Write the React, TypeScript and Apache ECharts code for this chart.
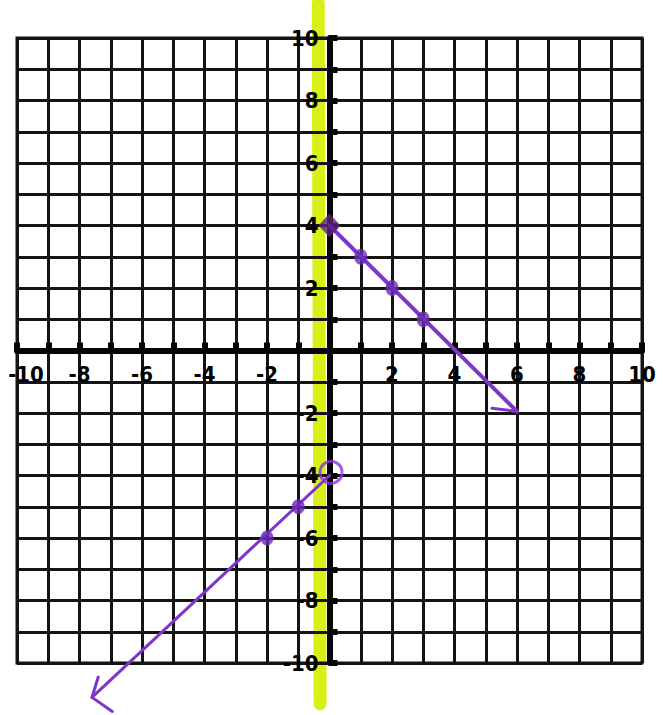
import React, { useEffect, useRef } from "react";
import * as echarts from "echarts";

// Axis extents and step of the graph paper
const axisMin = -10;
const axisMax = 10;
const gridStep = 1;

// Numbered ticks along each axis
const xTickLabels = [-10, -8, -6, -4, -2, 2, 4, 6, 8, 10];
const yTickLabels = [10, 8, 6, 4, 2, -2, -4, -6, -8, -10];

// Highlighted vertical stroke beside the y-axis (x = 0 boundary)
const highlightPath = [
  [-0.36, 11.1],
  [-0.3, -11.3],
];

// Upper piece: y = -x + 4, closed at x = 0, ray toward the lower right
const upperRay = [
  [0, 4],
  [6, -1.95],
];
const upperArrowHead = [
  [5.2, -1.85],
  [6, -1.95],
];
const upperDots = [
  [1, 3],
  [2, 2],
  [3, 1],
];
const closedEnd = [[0, 4]];

// Lower piece: y = x - 4, open at x = 0, ray toward the lower left
const lowerRay = [
  [0, -4],
  [-7.6, -11.1],
];
const lowerArrowHead = [
  [-7.4, -10.45],
  [-7.6, -11.1],
  [-6.95, -11.55],
];
const lowerDots = [
  [-1, -5],
  [-2, -6],
];
const openEnd = [[0.05, -3.9]];

const PURPLE = "#7f34cc";
const DOT = "#6a2ab4";
const labelFont = "'Liberation Sans Narrow', 'DejaVu Sans Condensed', 'Liberation Sans', sans-serif";

export default function App() {
  const ref = useRef<HTMLDivElement>(null);

  useEffect(() => {
    if (!ref.current) return;
    const chart = echarts.init(ref.current, undefined, { renderer: "svg" });

    const axisCommon = {
      type: "value" as const,
      min: axisMin,
      max: axisMax,
      interval: gridStep,
      axisLine: { onZero: true, lineStyle: { color: "#050505", width: 6 } },
      axisTick: { show: true, inside: true, length: 8, lineStyle: { color: "#050505", width: 6 } },
      splitLine: { show: true, lineStyle: { color: "#141414", width: 3 } },
      axisLabel: { show: false },
    };

    const ray = (data: number[][], width: number) => ({
      type: "line" as const,
      data,
      showSymbol: false,
      symbol: "none",
      clip: false,
      z: 3,
      lineStyle: { color: PURPLE, width, cap: "round" as const, join: "round" as const },
    });

    const textStyle = {
      fontSize: 22,
      fontFamily: labelFont,
      fontWeight: "bold" as const,
      color: "#000000",
      textBorderWidth: 0,
      opacity: 1,
    };

    // the leftmost number sits at the paper edge, so it is nudged inward
    const xLabelData = xTickLabels.map((v) =>
      v === axisMin ? { value: [v, 0], label: { offset: [9, 0] } } : { value: [v, 0] }
    );

    chart.setOption({
      animation: false,
      backgroundColor: "#ffffff",
      grid: {
        left: 17,
        top: 38,
        width: 625,
        height: 625,
        containLabel: false,
        outerBoundsMode: "none",
        show: true,
        borderColor: "#141414",
        borderWidth: 3,
      },
      xAxis: axisCommon,
      yAxis: axisCommon,
      series: [
        {
          type: "line",
          data: highlightPath,
          showSymbol: false,
          symbol: "none",
          clip: false,
          z: -1,
          lineStyle: { color: "#d6ef0a", width: 13, cap: "round", opacity: 0.95 },
        },
        ray(upperRay, 4),
        ray(upperArrowHead, 3),
        ray(lowerRay, 3),
        ray(lowerArrowHead, 3),
        {
          type: "scatter",
          data: upperDots,
          symbol: "circle",
          symbolSize: [13, 16],
          z: 4,
          itemStyle: { color: DOT },
        },
        {
          type: "scatter",
          data: lowerDots,
          symbol: "circle",
          symbolSize: [13, 15],
          z: 4,
          itemStyle: { color: DOT },
        },
        {
          type: "scatter",
          data: closedEnd,
          symbol: "diamond",
          symbolSize: [22, 24],
          z: 4,
          itemStyle: { color: "#5e1f7a" },
        },
        {
          type: "scatter",
          data: openEnd,
          symbol: "circle",
          symbolSize: 22,
          z: 4,
          clip: false,
          itemStyle: { color: "none", borderColor: "#8a36d6", borderWidth: 3 },
        },
        // axis numbers, placed on the axes through the same scales
        {
          type: "scatter",
          data: xLabelData,
          symbolSize: 0,
          silent: true,
          z: 5,
          itemStyle: { color: "#000" },
          label: {
            show: true,
            position: "bottom",
            distance: 13,
            formatter: (p: any) => String(p.value[0]),
            ...textStyle,
          },
        },
        {
          type: "scatter",
          data: yTickLabels.map((v) => [0, v]),
          symbolSize: 0,
          silent: true,
          z: 5,
          itemStyle: { color: "#000" },
          label: {
            show: true,
            position: "left",
            distance: 11,
            formatter: (p: any) => String(p.value[1]),
            ...textStyle,
          },
        },
      ],
    });

    return () => chart.dispose();
  }, []);

  return (
    <div
      ref={ref}
      style={{ position: "absolute", left: 0, top: 0, width: 663, height: 715, background: "#fff" }}
    />
  );
}
